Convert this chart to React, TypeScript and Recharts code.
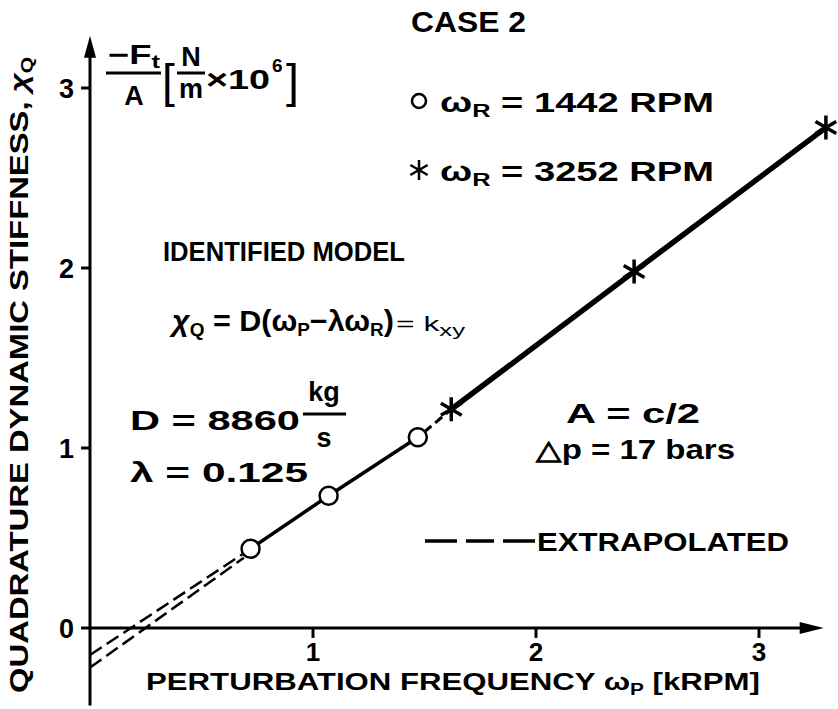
import React from "react";
import {
  ComposedChart,
  XAxis,
  YAxis,
  Line,
  Scatter,
  ReferenceLine,
  ReferenceDot,
  Customized,
} from "recharts";

// measured points (kRPM, N/m x 1e6)
const circlePts = [
  { x: 0.72, y: 0.44 },
  { x: 1.07, y: 0.735 },
  { x: 1.47, y: 1.06 },
];
const starPts = [
  { x: 1.62, y: 1.215 },
  { x: 2.44, y: 1.98 },
  { x: 3.3, y: 2.78 },
];
// dashed extrapolations back to the y axis
const extrapA = [
  { x: 0, y: -0.15 },
  { x: 0.69, y: 0.415 },
];
const extrapB = [
  { x: 0, y: -0.22 },
  { x: 0.69, y: 0.39 },
];
const bridge = [
  { x: 1.5, y: 1.09 },
  { x: 1.62, y: 1.215 },
];
const xTicks = [1, 2, 3];
const yTicks = [0, 1, 2, 3];
const yArrow = [{ x: 0, y: 3.29 }];
const xArrow = [{ x: 3.29, y: 0 }];

const FONT = '"Liberation Sans", Arial, Helvetica, sans-serif';

function starPath(cx: number, cy: number, r: number) {
  const a = r * 0.866;
  const b = r * 0.5;
  return `M${cx},${cy - r}L${cx},${cy + r}M${cx - a},${cy - b}L${cx + a},${cy + b}M${cx - a},${cy + b}L${cx + a},${cy - b}`;
}

const CircleDot = (p: any) => (
  <circle cx={p.cx} cy={p.cy} r={9} fill="#fff" stroke="#000" strokeWidth={2.5} />
);
const StarDot = (p: any) => (
  <path d={starPath(p.cx, p.cy, 12)} stroke="#000" strokeWidth={3.5} fill="none" />
);
const UpArrow = (p: any) => (
  <polygon
    points={`${p.cx},${p.cy} ${p.cx - 6},${p.cy + 22} ${p.cx + 6},${p.cy + 22}`}
    fill="#000"
  />
);
const RightArrow = (p: any) => (
  <polygon
    points={`${p.cx},${p.cy} ${p.cx - 24},${p.cy - 6} ${p.cx - 24},${p.cy + 6}`}
    fill="#000"
  />
);

function Annotations() {
  const sub = 5;
  return (
    <g fontFamily={FONT} fill="#000">
      <text x={411} y={32} fontSize={29} fontWeight={700} textLength={115} lengthAdjust="spacingAndGlyphs">
        CASE 2
      </text>

      {/* y axis title */}
      <text
        transform="translate(28,693) rotate(-90)"
        fontSize={25}
        fontWeight={700}
        textLength={636}
        lengthAdjust="spacingAndGlyphs"
      >
        {"QUADRATURE DYNAMIC STIFFNESS, "}
        <tspan fontStyle="italic">χ</tspan>
        <tspan fontSize={16} dy={sub}>Q</tspan>
      </text>

      {/* x axis title */}
      <text x={146} y={690} fontSize={24} fontWeight={700} textLength={614} lengthAdjust="spacingAndGlyphs">
        {"PERTURBATION FREQUENCY ω"}
        <tspan fontSize={16} dy={sub}>P</tspan>
        <tspan dy={-sub}>{" [kRPM]"}</tspan>
      </text>

      {/* units */}
      <text x={108} y={64} fontSize={27} fontWeight={700} textLength={52} lengthAdjust="spacingAndGlyphs">
        −F<tspan fontSize={19} dy={4}>t</tspan>
      </text>
      <line x1={106} x2={161} y1={73} y2={73} stroke="#000" strokeWidth={3} />
      <text x={134} y={105} fontSize={27} fontWeight={700} textAnchor="middle">A</text>
      <text x={162} y={97} fontSize={46} fontWeight={400}>[</text>
      <text x={191} y={66} fontSize={27} fontWeight={700} textAnchor="middle">N</text>
      <line x1={177} x2={205} y1={73} y2={73} stroke="#000" strokeWidth={3} />
      <text x={191} y={98} fontSize={27} fontWeight={700} textAnchor="middle">m</text>
      <text x={206} y={89} fontSize={28} fontWeight={700} textLength={64} lengthAdjust="spacingAndGlyphs">×10</text>
      <text x={272} y={72} fontSize={19} fontWeight={700}>6</text>
      <text x={286} y={97} fontSize={46} fontWeight={400}>]</text>

      {/* legend */}
      <circle cx={419} cy={101} r={7} fill="#fff" stroke="#000" strokeWidth={2.5} />
      <text x={440} y={112} fontSize={27} fontWeight={700} textLength={274} lengthAdjust="spacingAndGlyphs">
        ω<tspan fontSize={18} dy={sub}>R</tspan>
        <tspan dy={-sub}>{" = 1442 RPM"}</tspan>
      </text>
      <path d={starPath(419, 170, 10)} stroke="#000" strokeWidth={2.5} fill="none" />
      <text x={440} y={181} fontSize={27} fontWeight={700} textLength={274} lengthAdjust="spacingAndGlyphs">
        ω<tspan fontSize={18} dy={sub}>R</tspan>
        <tspan dy={-sub}>{" = 3252 RPM"}</tspan>
      </text>

      {/* model */}
      <text x={163} y={261} fontSize={28} fontWeight={700} textLength={242} lengthAdjust="spacingAndGlyphs">
        IDENTIFIED MODEL
      </text>
      <text x={172} y={331} fontSize={29} fontWeight={700} textLength={222} lengthAdjust="spacingAndGlyphs">
        <tspan fontStyle="italic">χ</tspan>
        <tspan fontSize={18} dy={sub}>Q</tspan>
        <tspan dy={-sub}>{" = D(ω"}</tspan>
        <tspan fontSize={18} dy={sub}>P</tspan>
        <tspan dy={-sub}>−λω</tspan>
        <tspan fontSize={18} dy={sub}>R</tspan>
        <tspan dy={-sub}>)</tspan>
      </text>
      <text x={396} y={331} fontSize={21} fontWeight={400} textLength={69} lengthAdjust="spacingAndGlyphs">
        {"= k"}
        <tspan fontSize={17} dy={sub}>xy</tspan>
      </text>

      <text x={130} y={430} fontSize={28} fontWeight={700} textLength={170} lengthAdjust="spacingAndGlyphs">
        D = 8860
      </text>
      <text x={324} y={401} fontSize={27} fontWeight={700} textAnchor="middle">kg</text>
      <line x1={303} x2={346} y1={414} y2={414} stroke="#000" strokeWidth={3} />
      <text x={324} y={447} fontSize={27} fontWeight={700} textAnchor="middle">s</text>
      <text x={130} y={482} fontSize={28} fontWeight={700} textLength={178} lengthAdjust="spacingAndGlyphs">
        λ = 0.125
      </text>

      <text x={566} y={423} fontSize={27} fontWeight={700} textLength={134} lengthAdjust="spacingAndGlyphs">
        A = c/2
      </text>
      <text x={536} y={459} fontSize={27} fontWeight={700} textLength={199} lengthAdjust="spacingAndGlyphs">
        △p = 17 bars
      </text>

      <line x1={425} x2={535} y1={541} y2={541} stroke="#000" strokeWidth={3.5} strokeDasharray="32 9 28 9 32" />
      <text x={537} y={551} fontSize={25} fontWeight={700} textLength={252} lengthAdjust="spacingAndGlyphs">
        EXTRAPOLATED
      </text>
    </g>
  );
}

export default function App() {
  return (
    <div style={{ position: "absolute", left: 0, top: 0, width: 838, height: 709, background: "#fff" }}>
      <ComposedChart width={838} height={709} margin={{ top: 0, right: 0, bottom: 0, left: 0 }}>
        <XAxis type="number" dataKey="x" domain={[-0.4036, 3.3543]} allowDataOverflow hide />
        <YAxis type="number" dataKey="y" domain={[-0.45, 3.4889]} allowDataOverflow hide />

        {/* axes */}
        <ReferenceLine segment={[{ x: 0, y: -0.43 }, { x: 0, y: 3.2 }]} stroke="#000" strokeWidth={3} />
        <ReferenceLine segment={[{ x: 0, y: 0 }, { x: 3.22, y: 0 }]} stroke="#000" strokeWidth={3} />
        {xTicks.map((t) => (
          <ReferenceLine key={"xt" + t} segment={[{ x: t, y: 0 }, { x: t, y: -0.055 }]} stroke="#000" strokeWidth={3} />
        ))}
        {yTicks.map((t) => (
          <ReferenceLine key={"yt" + t} segment={[{ x: -0.04, y: t }, { x: 0, y: t }]} stroke="#000" strokeWidth={3} />
        ))}
        {xTicks.map((t) => (
          <ReferenceDot
            key={"xl" + t}
            x={t}
            y={0}
            r={0}
            fill="none"
            stroke="none"
            label={{ value: String(t), position: "bottom", offset: 15, fill: "#000", fontSize: 26, fontWeight: 700, fontFamily: FONT }}
          />
        ))}
        {yTicks.map((t) => (
          <ReferenceDot
            key={"yl" + t}
            x={0}
            y={t}
            r={0}
            fill="none"
            stroke="none"
            label={{ value: String(t), position: "left", offset: 16, fill: "#000", fontSize: 27, fontWeight: 700, fontFamily: FONT }}
          />
        ))}

        <Line data={extrapA} dataKey="y" type="linear" stroke="#000" strokeWidth={2.5} strokeDasharray="14 6" dot={false} activeDot={false} isAnimationActive={false} />
        <Line data={extrapB} dataKey="y" type="linear" stroke="#000" strokeWidth={2.5} strokeDasharray="14 6" dot={false} activeDot={false} isAnimationActive={false} />
        <Line data={circlePts} dataKey="y" type="linear" stroke="#000" strokeWidth={3.5} dot={false} activeDot={false} isAnimationActive={false} />
        <Line data={bridge} dataKey="y" type="linear" stroke="#000" strokeWidth={3} strokeDasharray="9 5" dot={false} activeDot={false} isAnimationActive={false} />
        <Line data={starPts} dataKey="y" type="linear" stroke="#000" strokeWidth={5.5} dot={false} activeDot={false} isAnimationActive={false} />

        <Scatter data={circlePts} dataKey="y" shape={CircleDot} isAnimationActive={false} />
        <Scatter data={starPts} dataKey="y" shape={StarDot} isAnimationActive={false} />
        <Scatter data={yArrow} dataKey="y" shape={UpArrow} isAnimationActive={false} />
        <Scatter data={xArrow} dataKey="y" shape={RightArrow} isAnimationActive={false} />

        <Customized component={Annotations} />
      </ComposedChart>
    </div>
  );
}
